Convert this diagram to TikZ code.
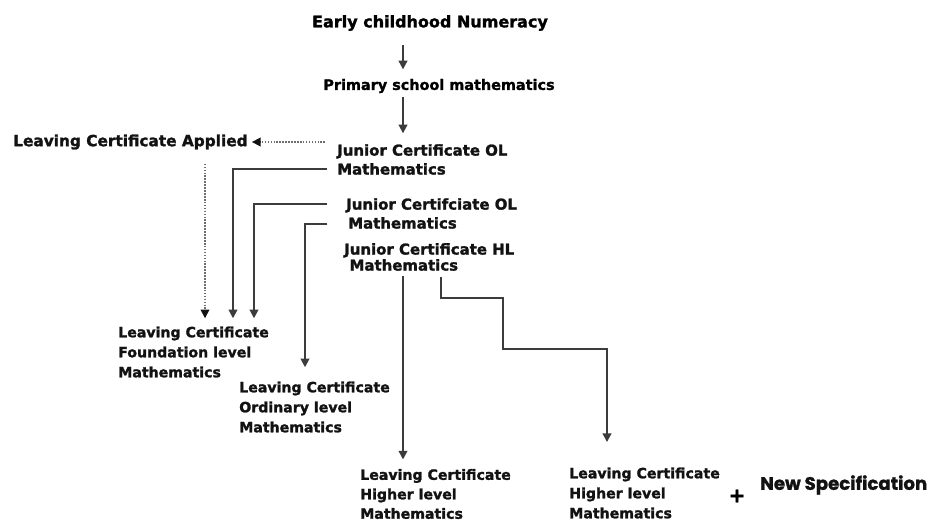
\documentclass[tikz,border=0pt]{standalone}
\usepackage{fontspec}
\setmainfont{DejaVu Sans}[BoldFeatures={FakeBold=1.6}]
\newfontfamily\specfont{Poppins}[BoldFeatures={FakeBold=1.2}]
\usetikzlibrary{arrows.meta, positioning}
\definecolor{primaryColor}{RGB}{18, 18, 18}
\definecolor{lineColor}{RGB}{60, 60, 60}
\definecolor{dotColor}{RGB}{110, 110, 110}
\tikzset{
    stage_label/.style={
        font=\bfseries\fontsize{10.6}{15}\selectfont,
        text=primaryColor,
        align=left,
        anchor=west,
        inner sep=0pt
    },
    jc_label/.style={
        stage_label,
        font=\bfseries\fontsize{11.2}{14.2}\selectfont
    },
    flow_edge/.style={
        -{Triangle[width=6.5pt,length=6.5pt]},
        line width=1.4pt,
        draw=lineColor
    },
    dotted_edge/.style={
        -{Triangle[width=6.5pt,length=6.5pt,color=primaryColor]},
        line width=1.2pt,
        draw=dotColor,
        densely dotted
    }
}

\begin{document}
\begin{tikzpicture}[x=0.75pt, y=-0.75pt]
    \useasboundingbox (0,0) rectangle (945,521);

    \node[font=\bfseries\fontsize{12}{14}\selectfont, inner sep=0pt] (early) at (430,23) {Early childhood Numeracy};
    \node[font=\bfseries\fontsize{10.8}{13}\selectfont, inner sep=0pt] (primary) at (439,86) {Primary school mathematics};

    \node[jc_label] (jcolA) at (337,159.5) {Junior Certificate OL\\Mathematics};
    \node[jc_label] (jcolB) at (346,213.5) {Junior Certifciate OL\\\hspace{1.5pt}Mathematics};
    \node[jc_label, font=\bfseries\fontsize{11.2}{12}\selectfont] (jchl) at (344,257) {Junior Certificate HL\\\hspace{4pt}Mathematics};

    \node[stage_label, font=\bfseries\fontsize{11.5}{14}\selectfont] (lca) at (13,142) {Leaving Certificate Applied};
    \node[stage_label] (lcf) at (118,352) {Leaving Certificate\\Foundation level\\Mathematics};
    \node[stage_label] (lco) at (239,407) {Leaving Certificate\\Ordinary level\\Mathematics};
    \node[stage_label, font=\bfseries\fontsize{10.6}{14.6}\selectfont] (lch) at (360,494) {Leaving Certificate\\Higher level\\Mathematics};
    \node[stage_label] (lchnew) at (569,493) {Leaving Certificate\\Higher level\\Mathematics};
    \node[font=\bfseries\fontsize{15}{15}\selectfont, inner sep=0pt] (plus) at (737,496) {+};
    \node[stage_label, font=\specfont\bfseries\fontsize{13.6}{15}\selectfont] (spec) at (760,485) {New Specification};

    % columns the drops run down
    \coordinate (dropApplied) at (205,0);
    \coordinate (dropOLa) at (233,0);
    \coordinate (dropOLb) at (254,0);
    \coordinate (dropOrd) at (305,0);
    \coordinate (spine) at (403,0);
    \coordinate (stair) at (441,0);

    \draw[flow_edge, shorten <=10.5pt, shorten >=7pt] (early.south -| spine) -- (primary.north -| spine);
    \draw[flow_edge, shorten <=3pt, shorten >=8pt] (primary.south -| spine) -- (jcolA.north -| spine);

    \draw[dotted_edge, shorten <=9pt, shorten >=3pt] (jcolA.west |- lca.east) -- (lca.east);
    \draw[dotted_edge, shorten <=10.5pt, shorten >=6pt] (lca.south -| dropApplied) -- (lcf.north -| dropApplied);

    \draw[flow_edge, shorten <=7.5pt, shorten >=6pt] ([yshift=-7pt]jcolA.west) -| (lcf.north -| dropOLa);
    \draw[flow_edge, shorten <=14pt, shorten >=6pt] ([yshift=7pt]jcolB.west) -| (lcf.north -| dropOLb);
    \draw[flow_edge, shorten <=14pt, shorten >=10.5pt] ([yshift=-8pt]jcolB.west) -| (lco.north -| dropOrd);

    \draw[flow_edge, shorten <=4pt, shorten >=7pt] (jchl.south -| spine) -- (lch.north -| spine);
    \draw[flow_edge, shorten <=4.5pt] (jchl.south -| stair) -- ++(0,27) -- ++(62,0) -- ++(0,51) -- ++(104,0) -- ++(0,93);
\end{tikzpicture}
\end{document}
